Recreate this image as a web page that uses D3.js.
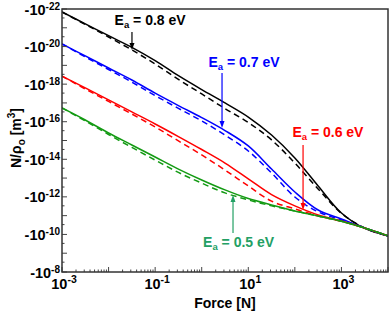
<!DOCTYPE html>
<html><head><meta charset="utf-8">
<script src="https://cdn.jsdelivr.net/npm/d3@7"></script>
<style>body{margin:0;background:#fff}svg{display:block}text{font-family:"Liberation Sans",Arial,sans-serif;font-weight:bold}</style>
</head><body><svg id="c" width="392" height="314"></svg>
<script>
// Force values [N]
const force = [1e-3, 3.16e-3, 1e-2, 3.16e-2, 0.1, 0.316, 1, 3.16, 10, 31.6, 100, 316, 1000, 3162, 10000];
// N/rho_o [m^3], solid = full model, dashed = approximation
const e08solid  = [-1.45e-22,-6.17e-22,-2.63e-21,-1.10e-20,-5.62e-20,-3.55e-19,-1.95e-18,-1.0e-17,-5.62e-17,-5.13e-16,-8.51e-15,-2.63e-13,-7.24e-12,-4.79e-11,-1.20e-10];
const e08dashed = [-1.45e-22,-6.61e-22,-3.09e-21,-1.51e-20,-8.51e-20,-5.62e-19,-3.31e-18,-2.00e-17,-1.10e-16,-9.33e-16,-1.58e-14,-3.80e-13,-7.59e-12,-4.57e-11,-1.20e-10];
const e07solid  = [-7.24e-21,-3.16e-20,-1.38e-19,-6.03e-19,-3.02e-18,-1.38e-17,-6.03e-17,-2.95e-16,-1.95e-15,-3.31e-14,-5.50e-13,-5.01e-12,-1.51e-11,-4.57e-11,-1.20e-10];
const e07dashed = [-7.24e-21,-3.55e-20,-1.66e-19,-7.76e-19,-4.07e-18,-1.95e-17,-9.12e-17,-5.13e-16,-3.63e-15,-5.37e-14,-1.02e-12,-6.31e-12,-1.70e-11,-4.57e-11,-1.20e-10];
const e06solid  = [-3.72e-19,-1.58e-18,-6.92e-18,-3.02e-17,-1.32e-16,-6.17e-16,-3.02e-15,-1.58e-14,-1.10e-13,-7.59e-13,-3.02e-12,-9.12e-12,-1.91e-11,-4.57e-11,-1.20e-10];
const e06dashed = [-3.72e-19,-1.82e-18,-8.32e-18,-3.89e-17,-1.91e-16,-1.05e-15,-5.89e-15,-3.72e-14,-2.63e-13,-1.70e-12,-4.37e-12,-1.05e-11,-2.00e-11,-4.57e-11,-1.20e-10];
const e05solid  = [-1.86e-17,-8.13e-17,-3.98e-16,-1.74e-15,-7.59e-15,-3.31e-14,-1.26e-13,-4.27e-13,-1.23e-12,-2.69e-12,-5.62e-12,-1.05e-11,-2.00e-11,-4.57e-11,-1.20e-10];
const e05dashed = [-1.86e-17,-9.12e-17,-4.79e-16,-2.34e-15,-1.10e-14,-5.01e-14,-1.86e-13,-6.17e-13,-1.45e-12,-3.02e-12,-5.62e-12,-1.05e-11,-2.00e-11,-4.57e-11,-1.20e-10];
const xTicks = [1e-3, 1e-1, 10, 1000];
const xTickExp = ["-3", "-1", "1", "3"];
const yTicks = [-1e-22, -1e-20, -1e-18, -1e-16, -1e-14, -1e-12, -1e-10, -1e-8];
const yTickExp = ["-22", "-20", "-18", "-16", "-14", "-12", "-10", "-8"];
const labels = ["0.8", "0.7", "0.6", "0.5"];
// annotations: label position (force, N) and arrow (force, from N, to N)
const annLabelF = [0.078, 8.1, 513, 6.2];
const annLabelN = [-7.1e-22, -1.23e-19, -6.5e-16, -4.7e-10];
const annArrowF = [0.0318, 2.73, 150, 4.7];
const annArrowFrom = [-1.66e-21, -2.57e-19, -1.74e-15, -8.3e-11];
const annArrowTo = [-1.51e-20, -2.14e-16, -5.0e-12, -7.9e-13];

const colors = ["#000000", "#0000ff", "#ff0000", "#139a13"];
const labelColors = ["#000000", "#0000ff", "#ff0000", "#23a064"];

const svg = d3.select("#c");
const L = 62, R = 388, T = 9, B = 272;
const x = d3.scaleLog().domain([1e-3, 1e4]).range([L, R]);
const y = d3.scaleLog().domain([-1e-22, -1e-8]).range([T, B]);

const series = [
  [e08solid, e08dashed], [e07solid, e07dashed], [e06solid, e06dashed], [e05solid, e05dashed]
];
const line = d3.line().x((d, i) => x(force[i])).y(d => y(d)).curve(d3.curveCatmullRom.alpha(0.5));
svg.append("clipPath").attr("id", "pc").append("rect").attr("x", L).attr("y", T).attr("width", R - L).attr("height", B - T);
const g = svg.append("g").attr("clip-path", "url(#pc)");
series.forEach((s, k) => {
  g.append("path").attr("d", line(s[1])).attr("fill", "none").attr("stroke", colors[k]).attr("stroke-width", 1.5).attr("stroke-dasharray", "6,4");
  g.append("path").attr("d", line(s[0])).attr("fill", "none").attr("stroke", colors[k]).attr("stroke-width", 1.5);
});

// ticks (inward)
const axisG = svg.append("g").attr("stroke", "#444").attr("stroke-width", 1);
for (let e = -3; e <= 4; e++) {
  for (let m = 1; m < 10; m++) {
    const v = m * Math.pow(10, e);
    if (v > 1e4) break;
    const px = x(v), len = m === 1 ? 5 : 2.5;
    axisG.append("line").attr("x1", px).attr("x2", px).attr("y1", B).attr("y2", B - len);
  }
}
for (let e = -22; e <= -8; e++) {
  [1, 3].forEach(m => {
    const v = -m * Math.pow(10, e);
    if (Math.abs(v) > 1e-8) return;
    const py = y(v), len = m === 1 ? 5 : 2.5;
    axisG.append("line").attr("x1", L).attr("x2", L + len).attr("y1", py).attr("y2", py);
  });
}
svg.append("rect").attr("x", L).attr("y", T).attr("width", R - L).attr("height", B - T)
  .attr("fill", "none").attr("stroke", "#333").attr("stroke-width", 1.5);

// tick labels
yTicks.forEach((v, i) => {
  const t = svg.append("text").attr("x", L - 2).attr("y", y(v) + 5.5).attr("text-anchor", "end").attr("font-size", 14.5).attr("fill", "#000");
  t.append("tspan").text("-10");
  t.append("tspan").attr("dy", -5).attr("font-size", 10).text(yTickExp[i]);
});
xTicks.forEach((v, i) => {
  const t = svg.append("text").attr("x", x(v) + 2).attr("y", 289).attr("text-anchor", "middle").attr("font-size", 14.5).attr("fill", "#000");
  t.append("tspan").text("10");
  t.append("tspan").attr("dy", -6).attr("font-size", 10.5).text(xTickExp[i]);
});

// axis titles
svg.append("text").attr("x", (L + R) / 2).attr("y", 308).attr("text-anchor", "middle").attr("font-size", 14).text("Force [N]");
const yt = svg.append("text").attr("transform", "translate(21,138) rotate(-90)").attr("text-anchor", "middle").attr("font-size", 14);
yt.append("tspan").text("N/ρ");
yt.append("tspan").attr("dy", 4).attr("font-size", 10).text("o");
yt.append("tspan").attr("dy", -4).text(" [m");
yt.append("tspan").attr("dy", -6).attr("font-size", 10).text("3");
yt.append("tspan").attr("dy", 6).text("]");

// annotations
labels.forEach((lab, i) => {
  const c = labelColors[i];
  const ax = x(annArrowF[i]), y1 = y(annArrowFrom[i]), y2 = y(annArrowTo[i]);
  const dir = y2 > y1 ? 1 : -1;
  svg.append("line").attr("x1", ax).attr("x2", ax).attr("y1", y1).attr("y2", y2 - dir * 5).attr("stroke", c).attr("stroke-width", 1.2);
  svg.append("path").attr("d", `M${ax - 2.5},${y2 - dir * 7}L${ax + 2.5},${y2 - dir * 7}L${ax},${y2}Z`).attr("fill", c);
  const t = svg.append("text").attr("x", x(annLabelF[i])).attr("y", y(annLabelN[i])).attr("text-anchor", "middle").attr("font-size", 14).attr("fill", c);
  t.append("tspan").text("E");
  t.append("tspan").attr("dy", 3).attr("font-size", 9.5).text("a");
  t.append("tspan").attr("dy", -3).text(" = " + lab + " eV");
});
</script></body></html>
